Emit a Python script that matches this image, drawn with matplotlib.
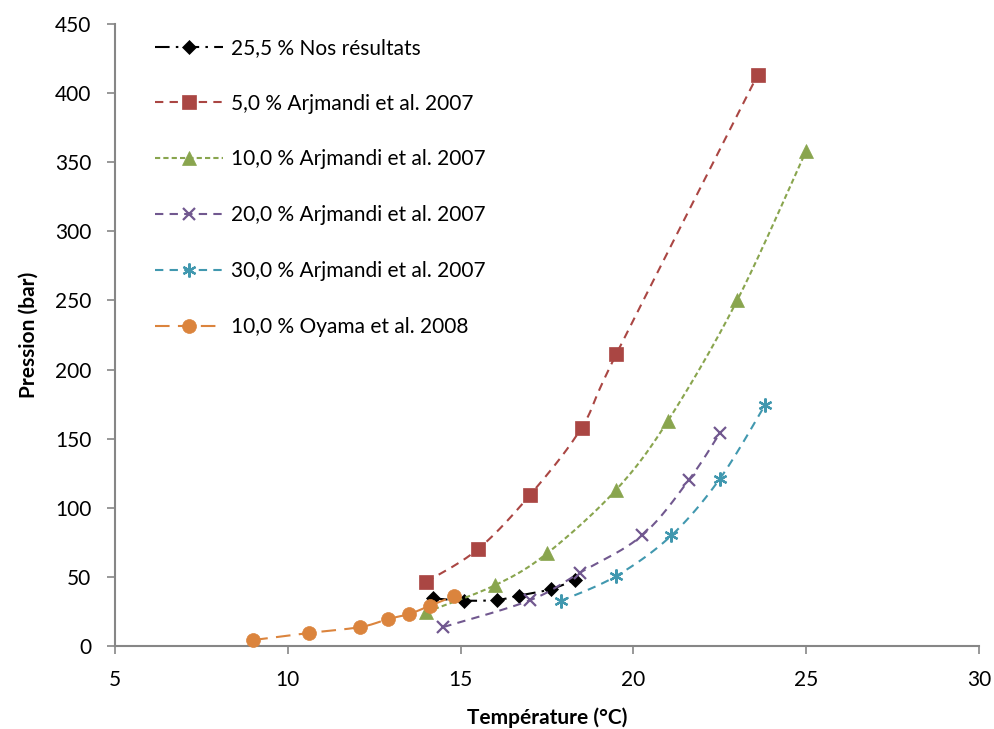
import numpy as np
import matplotlib
matplotlib.use("Agg")
import matplotlib.pyplot as plt
from matplotlib.lines import Line2D

# ---- data ----
labels = ["25,5 % Nos résultats", "5,0 % Arjmandi et al. 2007", "10,0 % Arjmandi et al. 2007",
          "20,0 % Arjmandi et al. 2007", "30,0 % Arjmandi et al. 2007", "10,0 % Oyama et al. 2008"]
nos_T = [14.2, 15.1, 16.05, 16.7, 17.6, 18.3]
nos_P = [34.5, 32.8, 33.3, 36.5, 41.0, 47.8]
a5_T = [14.0, 15.5, 17.0, 18.5, 19.5, 23.6]
a5_P = [46.3, 70.0, 109.0, 158.0, 211.0, 413.5]
a10_T = [14.0, 16.0, 17.5, 19.5, 21.0, 23.0, 25.0]
a10_P = [24.5, 44.0, 67.0, 113.0, 163.0, 250.0, 358.5]
a20_T = [14.5, 17.0, 18.45, 20.25, 21.6, 22.5]
a20_P = [13.7, 33.0, 53.0, 80.0, 120.0, 154.0]
a30_T = [17.9, 19.5, 21.1, 22.5, 23.8]
a30_P = [32.6, 50.6, 80.0, 121.0, 174.0]
oy_T = [9.0, 10.6, 12.1, 12.9, 13.5, 14.1, 14.8]
oy_P = [4.3, 9.4, 13.7, 19.5, 23.0, 29.0, 36.0]

series = [(nos_T, nos_P), (a5_T, a5_P), (a10_T, a10_P), (a20_T, a20_P), (a30_T, a30_P), (oy_T, oy_P)]
colors = ["#000000", "#AA4643", "#89A54E", "#71588F", "#4198AF", "#DB843D"]
markers = ["D", "s", "^", "x", (6, 2, 0), "o"]
msizes = [7, 10, 10, 9, 10, 10]
lstyles = [(0, (7, 3, 1.2, 3)), (0, (4, 3)), (0, (2.5, 1.5)), (0, (4, 3)), (0, (4, 3)), (0, (7, 4))]

XMIN, XMAX, YMIN, YMAX = 5, 30, 0, 450

fig = plt.figure(figsize=(9.94, 7.29), dpi=100)
ax = fig.add_axes([0.1157, 0.1139, 0.985 - 0.1157, 0.967 - 0.1139])
ax.set_xlim(XMIN, XMAX)
ax.set_ylim(YMIN, YMAX)

W_px = 864.0
H_px = 622.0

def smooth(x, y, n=30):
    x = np.asarray(x, float); y = np.asarray(y, float)
    px = (x - XMIN) / (XMAX - XMIN) * W_px
    py = (y - YMIN) / (YMAX - YMIN) * H_px
    P = np.column_stack([px, py])
    out = [P[0]]
    m = len(P)
    for i in range(m - 1):
        p0 = P[i - 1] if i > 0 else P[i]
        p1 = P[i]; p2 = P[i + 1]
        p3 = P[i + 2] if i + 2 < m else P[i + 1]
        c1 = p1 + (p2 - p0) / 6.0
        c2 = p2 - (p3 - p1) / 6.0
        t = np.linspace(0, 1, n)[1:, None]
        b = ((1 - t) ** 3) * p1 + 3 * ((1 - t) ** 2) * t * c1 + 3 * (1 - t) * t ** 2 * c2 + t ** 3 * p2
        out.extend(b)
    out = np.array(out)
    return out[:, 0] / W_px * (XMAX - XMIN) + XMIN, out[:, 1] / H_px * (YMAX - YMIN) + YMIN

handles = []
for i, ((x, y), c, mk, ms, ls, lab) in enumerate(zip(series, colors, markers, msizes, lstyles, labels)):
    sx, sy = smooth(x, y)
    ax.plot(sx, sy, color=c, lw=1.5, linestyle=ls, zorder=2 + i * 2)
    mew = 1.6 if mk in ("x",) or isinstance(mk, tuple) else 0.5
    ax.plot(x, y, linestyle="none", marker=mk, markersize=ms, color=c,
            markeredgecolor=c, markeredgewidth=mew, zorder=3 + i * 2, clip_on=False)
    handles.append(Line2D([], [], color=c, lw=1.5, linestyle=ls, marker=mk, markersize=ms,
                          markeredgecolor=c, markeredgewidth=mew))

font = "Lato"
leg = ax.legend(handles, labels, loc="upper left", bbox_to_anchor=(0.025, 1.008), frameon=False,
                handlelength=3.25, labelspacing=1.72, handletextpad=0.4,
                prop={"family": font, "size": 15})

for s in ["top", "right"]:
    ax.spines[s].set_visible(False)
for s in ["left", "bottom"]:
    ax.spines[s].set_color("#868686")
    ax.spines[s].set_linewidth(1.5)
ax.set_xticks(range(5, 31, 5))
ax.set_yticks(range(0, 451, 50))
ax.tick_params(axis="both", colors="#868686", length=6, width=1.2, direction="out", labelcolor="black",
               labelsize=15)
for lbl in ax.get_xticklabels() + ax.get_yticklabels():
    lbl.set_family(font)
ax.tick_params(axis="x", pad=11)
ax.tick_params(axis="y", pad=11)

ax.set_xlabel("Température (°C)", family=font, fontweight="bold", fontsize=15, labelpad=13)
ax.set_ylabel("Pression (bar)", family=font, fontweight="bold", fontsize=15, labelpad=12)

fig.savefig("out.png", dpi=100)
